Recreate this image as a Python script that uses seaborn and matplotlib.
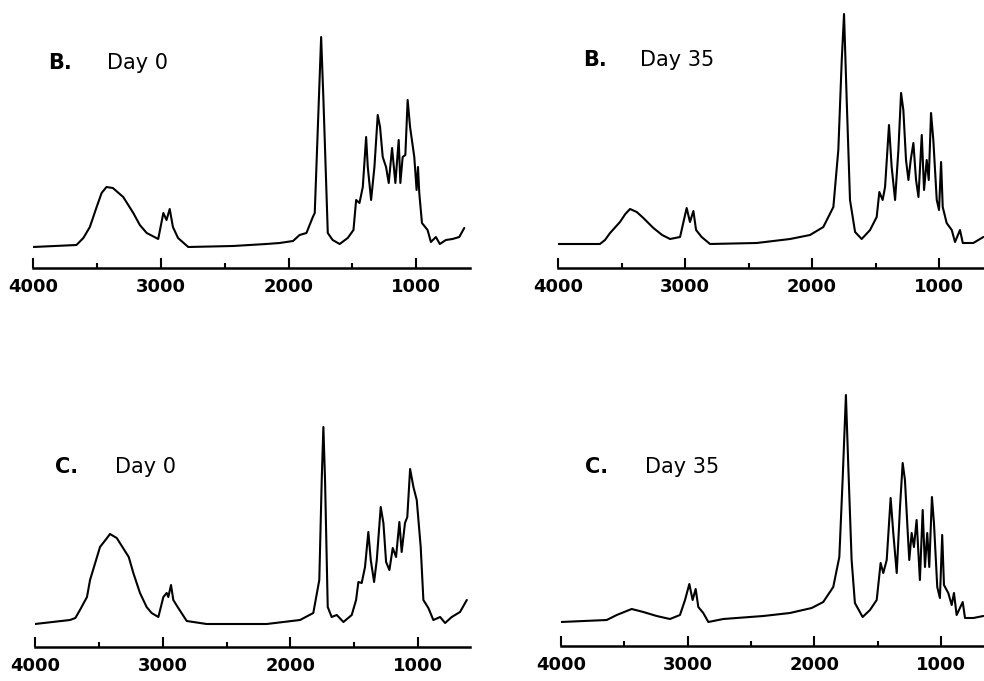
import numpy as np
import pandas as pd
import matplotlib
matplotlib.use("Agg")
import matplotlib.pyplot as plt
import seaborn as sns

# FTIR spectra (wavenumber in cm-1, absorbance in arbitrary units)
b0_wn = [4000, 3660, 3606, 3555, 3502, 3463, 3425, 3375, 3294, 3215, 3164, 3110, 3020, 2980, 2955,
         2930, 2905, 2865, 2785, 2435, 2175, 2070, 1965, 1914, 1860, 1810, 1795, 1763, 1745, 1727,
         1693, 1655, 1600, 1537, 1492, 1471, 1445, 1419, 1393, 1380, 1354, 1328, 1302, 1284, 1263,
         1237, 1216, 1190, 1164, 1138, 1125, 1107, 1086, 1068, 1049, 1016, 998, 987, 977, 956,
         912, 886, 847, 816, 769, 717, 664, 625]
b0_abs = [0.21, 0.23, 0.30, 0.41, 0.61, 0.75, 0.81, 0.80, 0.71, 0.55, 0.43, 0.35, 0.29, 0.55, 0.48,
          0.59, 0.41, 0.30, 0.21, 0.22, 0.24, 0.25, 0.27, 0.33, 0.35, 0.51, 0.55, 1.68, 2.31, 1.68,
          0.35, 0.28, 0.24, 0.30, 0.38, 0.68, 0.65, 0.81, 1.31, 1.01, 0.68, 1.01, 1.53, 1.41, 1.11,
          1.01, 0.85, 1.20, 0.85, 1.28, 0.85, 1.11, 1.13, 1.68, 1.41, 1.11, 0.78, 1.01, 0.75, 0.45,
          0.38, 0.26, 0.31, 0.24, 0.28, 0.29, 0.31, 0.40]

b35_wn = [4000, 3670, 3630, 3590, 3512, 3470, 3433, 3380, 3328, 3249, 3180, 3118, 3039, 2987, 2961,
          2934, 2913, 2869, 2803, 2436, 2173, 2016, 1911, 1832, 1793, 1766, 1748, 1727, 1701, 1661,
          1609, 1543, 1491, 1470, 1444, 1425, 1394, 1373, 1346, 1320, 1299, 1281, 1260, 1241, 1223,
          1202, 1181, 1162, 1136, 1118, 1097, 1081, 1063, 1045, 1018, 1000, 984, 971, 940, 900,
          874, 835, 813, 730, 651]
b35_abs = [0.24, 0.24, 0.28, 0.35, 0.46, 0.54, 0.59, 0.56, 0.50, 0.40, 0.33, 0.29, 0.31, 0.60, 0.46,
           0.57, 0.38, 0.31, 0.24, 0.25, 0.29, 0.33, 0.41, 0.61, 1.18, 2.08, 2.54, 1.68, 0.68, 0.36,
           0.29, 0.38, 0.51, 0.76, 0.68, 0.81, 1.43, 1.01, 0.68, 1.18, 1.75, 1.58, 1.08, 0.88, 1.08,
           1.25, 0.88, 0.71, 1.33, 0.78, 1.08, 0.88, 1.55, 1.28, 0.68, 0.58, 1.06, 0.61, 0.45, 0.38,
           0.26, 0.38, 0.25, 0.25, 0.31]

c0_wn = [4000, 3726, 3684, 3648, 3593, 3569, 3491, 3436, 3413, 3360, 3266, 3230, 3178, 3126, 3087,
         3034, 2995, 2969, 2956, 2935, 2917, 2878, 2812, 2656, 2186, 1925, 1821, 1774, 1755, 1742,
         1729, 1708, 1677, 1637, 1585, 1520, 1486, 1468, 1442, 1416, 1390, 1371, 1345, 1324, 1293,
         1272, 1251, 1225, 1199, 1173, 1147, 1129, 1103, 1085, 1063, 1037, 1011, 980, 959, 920,
         881, 828, 789, 737, 672, 619]
c0_abs = [0.23, 0.27, 0.29, 0.37, 0.50, 0.67, 1.00, 1.09, 1.13, 1.09, 0.90, 0.74, 0.54, 0.40, 0.34,
          0.30, 0.50, 0.54, 0.50, 0.62, 0.47, 0.39, 0.26, 0.23, 0.23, 0.27, 0.34, 0.67, 1.67, 2.20,
          1.67, 0.40, 0.30, 0.32, 0.25, 0.32, 0.47, 0.65, 0.64, 0.80, 1.15, 0.87, 0.65, 0.87, 1.40,
          1.24, 0.85, 0.77, 0.99, 0.90, 1.25, 0.95, 1.24, 1.30, 1.78, 1.60, 1.47, 1.00, 0.47, 0.39,
          0.27, 0.30, 0.24, 0.30, 0.35, 0.47]

c35_wn = [4000, 3639, 3560, 3442, 3350, 3245, 3140, 3061, 3021, 2987, 2961, 2937, 2916, 2877, 2837,
          2719, 2403, 2193, 2021, 1930, 1851, 1803, 1777, 1751, 1732, 1706, 1680, 1619, 1561, 1508,
          1477, 1456, 1429, 1398, 1377, 1350, 1324, 1303, 1285, 1267, 1251, 1232, 1214, 1193, 1167,
          1145, 1127, 1109, 1093, 1072, 1056, 1030, 1009, 991, 977, 943, 916, 898, 877, 829,
          811, 745, 666]
c35_abs = [0.24, 0.26, 0.31, 0.37, 0.34, 0.30, 0.27, 0.31, 0.46, 0.62, 0.46, 0.57, 0.39, 0.33, 0.24,
           0.27, 0.30, 0.33, 0.38, 0.44, 0.59, 0.89, 1.66, 2.51, 1.79, 0.86, 0.43, 0.29, 0.36, 0.46,
           0.83, 0.73, 0.86, 1.48, 1.13, 0.73, 1.39, 1.83, 1.66, 1.23, 0.86, 1.13, 0.99, 1.26, 0.66,
           1.36, 0.79, 1.13, 0.79, 1.49, 1.23, 0.59, 0.48, 1.11, 0.61, 0.53, 0.41, 0.53, 0.31, 0.44,
           0.28, 0.28, 0.30]

panel_letters = ['B.', 'B.', 'C.', 'C.']
panel_days = ['Day 0', 'Day 35', 'Day 0', 'Day 35']
xtick_values = [4000, 3000, 2000, 1000]
xtick_labels = ['4000', '3000', '2000', '1000']
minor_values = [3500, 2500, 1500]

sns.set_style("white")
plt.rcParams['font.family'] = ['DejaVu Sans']
plt.rcParams['text.color'] = 'black'

W, H = 984, 681
fig = plt.figure(figsize=(W / 100, H / 100), dpi=100)


def px_axes(left, right, top, bottom):
    return fig.add_axes([left / W, 1 - bottom / H, (right - left) / W, (bottom - top) / H])


# (data, pixel box, right x-limit, letter x, day x, text y) - text in axes fractions
panels = [
    (b0_wn, b0_abs, (33, 470, 8, 268), 580, 0.034, 0.169, 0.79),
    (b35_wn, b35_abs, (558, 984, 8, 268), 646, 0.059, 0.192, 0.80),
    (c0_wn, c0_abs, (35, 470, 387, 647), 594, 0.046, 0.184, 0.692),
    (c35_wn, c35_abs, (561, 984, 386, 646), 661, 0.057, 0.199, 0.688),
]

for i, (wn, ab, box, xr, lx, dx, ty) in enumerate(panels):
    ax = px_axes(*box)
    df = pd.DataFrame({'wavenumber': wn, 'absorbance': ab})
    sns.lineplot(data=df, x='wavenumber', y='absorbance', ax=ax, color='black',
                 linewidth=1.5, estimator=None, sort=False)
    ax.set_xlim(4000, xr)
    ax.set_ylim(0, 2.6)
    ax.set_xlabel('')
    ax.set_ylabel('')
    ax.set_yticks([])
    sns.despine(ax=ax, left=True)
    ax.spines['bottom'].set_linewidth(1.8)
    ax.spines['bottom'].set_color('black')
    ax.set_xticks(xtick_values)
    ax.set_xticklabels(xtick_labels, fontweight='bold')
    ax.set_xticks(minor_values, minor=True)
    ax.tick_params(axis='x', which='major', direction='in', length=7, width=1.5,
                   pad=7, labelsize=13, colors='black', bottom=True)
    ax.tick_params(axis='x', which='minor', direction='in', length=3.5, width=1.5,
                   colors='black', bottom=True)
    ax.patch.set_alpha(0)
    ax.text(lx, ty, panel_letters[i], transform=ax.transAxes, fontsize=15,
            fontweight='bold', va='center', ha='left', color='black')
    ax.text(dx, ty, panel_days[i], transform=ax.transAxes, fontsize=15,
            va='center', ha='left', color='black')

fig.savefig('out.png', dpi=100, facecolor='white')
